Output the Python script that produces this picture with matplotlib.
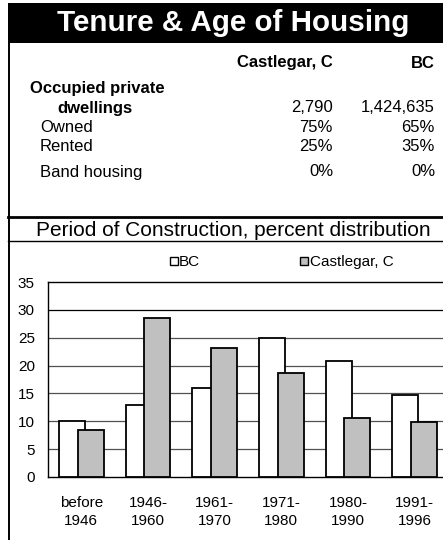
import matplotlib
matplotlib.use("Agg")
import matplotlib.pyplot as plt
from matplotlib.patches import Rectangle
from matplotlib.lines import Line2D
import numpy as np

plt.rcParams['font.family'] = ['Liberation Sans', 'DejaVu Sans']

# ---- data ----
title = "Tenure & Age of Housing"
col_headers = ["Castlegar, C", "BC"]
row_labels = ["Owned", "Rented", "Band housing"]
dwellings = ["2,790", "1,424,635"]
castlegar_tenure = ["75%", "25%", "0%"]
bc_tenure = ["65%", "35%", "0%"]

chart_title = "Period of Construction, percent distribution"
periods = ["before\n1946", "1946-\n1960", "1961-\n1970", "1971-\n1980", "1980-\n1990", "1991-\n1996"]
bc_values = [10.1, 12.9, 16.0, 25.0, 20.9, 14.7]
castlegar_values = [8.4, 28.6, 23.2, 18.6, 10.6, 9.8]
series_names = ["BC", "Castlegar, C"]
yticks = [0, 5, 10, 15, 20, 25, 30, 35]

W, H = 443, 540
fig = plt.figure(figsize=(W / 100, H / 100), dpi=100)


def px(x, y):
    return x / W, 1 - y / H


def hline(y, x0, x1, lw, color="black"):
    fig.add_artist(Line2D([x0 / W, x1 / W], [1 - y / H, 1 - y / H], lw=lw, color=color,
                          transform=fig.transFigure))


def vline(x, y0, y1, lw, color="black"):
    fig.add_artist(Line2D([x / W, x / W], [1 - y0 / H, 1 - y1 / H], lw=lw, color=color,
                          transform=fig.transFigure))


# banner
fig.add_artist(Rectangle(px(8, 43), (W - 8) / W, 40 / H, facecolor="black", edgecolor="none",
                         transform=fig.transFigure))
fig.text(*px(233, 23), title, color="white", fontsize=21.3, fontweight="bold",
         ha="center", va="center")

# frame lines
vline(8.7, 43, 540, 1.4)
hline(216.5, 8, 443, 2.0)
hline(241, 8, 443, 1.0)

# table
fig.text(*px(333, 63), col_headers[0], fontsize=12, fontweight="bold", ha="right", va="center")
fig.text(*px(435, 63), col_headers[1], fontsize=12, fontweight="bold", ha="right", va="center")
fig.text(*px(30, 88), "Occupied private", fontsize=12, fontweight="bold", ha="left", va="center")
fig.text(*px(57, 108), "dwellings", fontsize=12, fontweight="bold", ha="left", va="center")
fig.text(*px(333, 108), dwellings[0], fontsize=12, ha="right", va="center")
fig.text(*px(435, 108), dwellings[1], fontsize=12, ha="right", va="center")
row_y = [128, 147, 172]
for lab, c, b, y in zip(row_labels, castlegar_tenure, bc_tenure, row_y):
    fig.text(*px(40, y), lab, fontsize=12, ha="left", va="center")
    fig.text(*px(333, y), c, fontsize=12, ha="right", va="center")
    fig.text(*px(435, y), b, fontsize=12, ha="right", va="center")

# chart title
fig.text(*px(233, 230), chart_title, fontsize=15, ha="center", va="center")

# legend (manual)
fig.add_artist(Rectangle(px(170, 265), 8 / W, 8 / H, facecolor="white", edgecolor="black",
                         lw=1.0, transform=fig.transFigure))
fig.text(*px(179, 262), series_names[0], fontsize=11, ha="left", va="center")
fig.add_artist(Rectangle(px(300, 265), 8 / W, 8 / H, facecolor="#c0c0c0", edgecolor="black",
                         lw=1.0, transform=fig.transFigure))
fig.text(*px(310, 262), series_names[1], fontsize=11, ha="left", va="center")

# chart axes
left, right, top, bottom = 48, 448, 282, 477
ax = fig.add_axes([left / W, 1 - bottom / H, (right - left) / W, (bottom - top) / H])
x = np.arange(len(periods))
width = 0.39
off = 0.138
ax.bar(x - off, bc_values, width, color="white", edgecolor="black", lw=1.3, zorder=3)
ax.bar(x + off, castlegar_values, width, color="#c0c0c0", edgecolor="black", lw=1.3, zorder=4)
ax.set_xlim(-0.5, len(periods) - 0.5)
ax.set_ylim(0, 35)
ax.set_yticks(yticks)
for t in yticks[1:-1]:
    ax.axhline(t, color="#000000" if t >= 30 else "#505050", lw=0.9, zorder=1)
ax.set_xticks(x)
ax.set_xticklabels(periods, fontsize=11, linespacing=1.35)
ax.tick_params(axis="y", length=0, pad=9.5, labelsize=11)
ax.tick_params(axis="x", length=0, pad=14)
for s in ["left", "top", "bottom"]:
    ax.spines[s].set_color("black")
    ax.spines[s].set_linewidth(1.0)
ax.spines["right"].set_visible(False)

fig.savefig("out.png", dpi=100)
